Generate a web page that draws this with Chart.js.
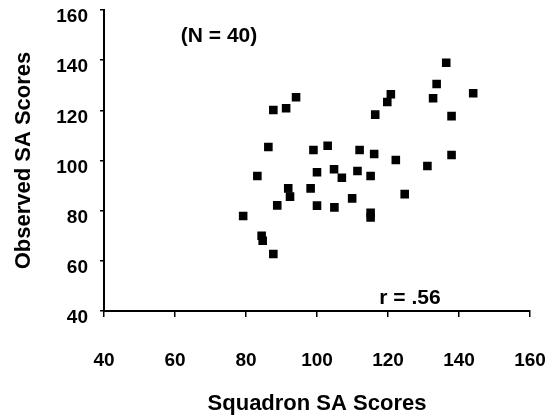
<!DOCTYPE html>
<html>
<head>
<meta charset="utf-8">
<script src="https://cdn.jsdelivr.net/npm/chart.js@4"></script>
<style>
  html, body { margin: 0; padding: 0; background: #fff; }
  #wrap { width: 548px; height: 417px; }
</style>
</head>
<body>
<div id="wrap"><canvas id="scatter" width="548" height="417"></canvas></div>
<script>
// squadron SA scores (x) and observed SA scores (y)
const squadronScores = [
  136.4, 133.7, 132.7, 144.0, 137.9, 137.9, 131.1, 124.7, 122.2, 120.8,
  119.8, 116.4, 116.1, 112.0, 111.4, 115.1, 115.1, 115.1, 109.9, 107.0,
  104.8, 103.0, 99.0, 100.0, 98.2, 100.0, 104.9, 94.1, 91.3, 87.7,
  86.3, 83.2, 91.9, 92.4, 88.8, 79.2, 84.4, 84.7, 87.7
];
const observedScores = [
  139.0, 130.5, 124.8, 126.8, 117.7, 102.2, 97.8, 86.6, 100.2, 126.4,
  123.3, 118.3, 102.6, 104.2, 95.8, 93.8, 79.2, 77.3, 84.9, 93.1,
  96.5, 105.9, 104.2, 95.3, 88.9, 82.0, 81.3, 125.2, 120.8, 120.1,
  105.4, 93.8, 88.9, 85.6, 82.1, 77.9, 70.0, 68.0, 62.7
];
const axisMin = 40;
const axisMax = 160;
const axisStep = 20;
const sampleNote = '(N = 40)';
const corrNote = 'r = .56';

const points = squadronScores.map(function(x, i) { return {x: x, y: observedScores[i]}; });

const tickFont = {family: '"Liberation Sans Narrow", "Liberation Sans", Arial, sans-serif', size: 19, weight: 'bold'};
const titleFont = {family: '"Liberation Sans", Arial, sans-serif', size: 22, weight: 'bold'};

// writes the two notes inside the plot
const notesPlugin = {
  id: 'notes',
  afterDatasetsDraw: function(chart) {
    const ctx = chart.ctx;
    const xs = chart.scales.x, ys = chart.scales.y;
    ctx.save();
    ctx.fillStyle = '#000';
    ctx.font = 'bold 21px "Liberation Sans", Arial, sans-serif';
    ctx.textAlign = 'center';
    ctx.textBaseline = 'middle';
    ctx.fillText(sampleNote, xs.getPixelForValue(72.4), ys.getPixelForValue(149.6));
    ctx.fillText(corrNote, xs.getPixelForValue(126.2), ys.getPixelForValue(45.2));
    ctx.restore();
  }
};

new Chart(document.getElementById('scatter').getContext('2d'), {
  type: 'scatter',
  data: {
    datasets: [{
      data: points,
      pointStyle: 'rect',
      pointRadius: 5,
      pointHoverRadius: 5,
      backgroundColor: '#000',
      borderColor: '#000',
      borderWidth: 1.5
    }]
  },
  options: {
    responsive: false,
    animation: false,
    layout: {padding: {left: 0, right: 18, top: 10, bottom: 0}},
    plugins: {legend: {display: false}, tooltip: {enabled: false}},
    scales: {
      x: {
        type: 'linear',
        min: axisMin, max: axisMax,
        afterFit: function(scale) {
          scale.height = 106;
          scale.paddingLeft = 0;
          scale.paddingRight = 18;
        },
        border: {display: true, color: '#000', width: 2},
        grid: {drawOnChartArea: false, drawTicks: true, tickLength: 6, color: '#000', lineWidth: 1.5},
        ticks: {stepSize: axisStep, color: '#000', font: tickFont, padding: 32, maxRotation: 0},
        title: {display: true, text: 'Squadron SA Scores', color: '#000', font: titleFont, padding: {top: 0, bottom: 0}}
      },
      y: {
        type: 'linear',
        min: axisMin, max: axisMax,
        afterFit: function(scale) {
          scale.width = 104;
          scale.paddingTop = 10;
          scale.paddingBottom = 0;
        },
        border: {display: true, color: '#000', width: 2},
        grid: {drawOnChartArea: false, drawTicks: true, tickLength: 4, color: '#000', lineWidth: 1.5},
        ticks: {stepSize: axisStep, color: '#000', font: tickFont, padding: 12, labelOffset: 7},
        title: {display: true, text: 'Observed SA Scores', color: '#000', font: titleFont, padding: {top: 11, bottom: 0}}
      }
    }
  },
  plugins: [notesPlugin]
});
</script>
</body>
</html>
